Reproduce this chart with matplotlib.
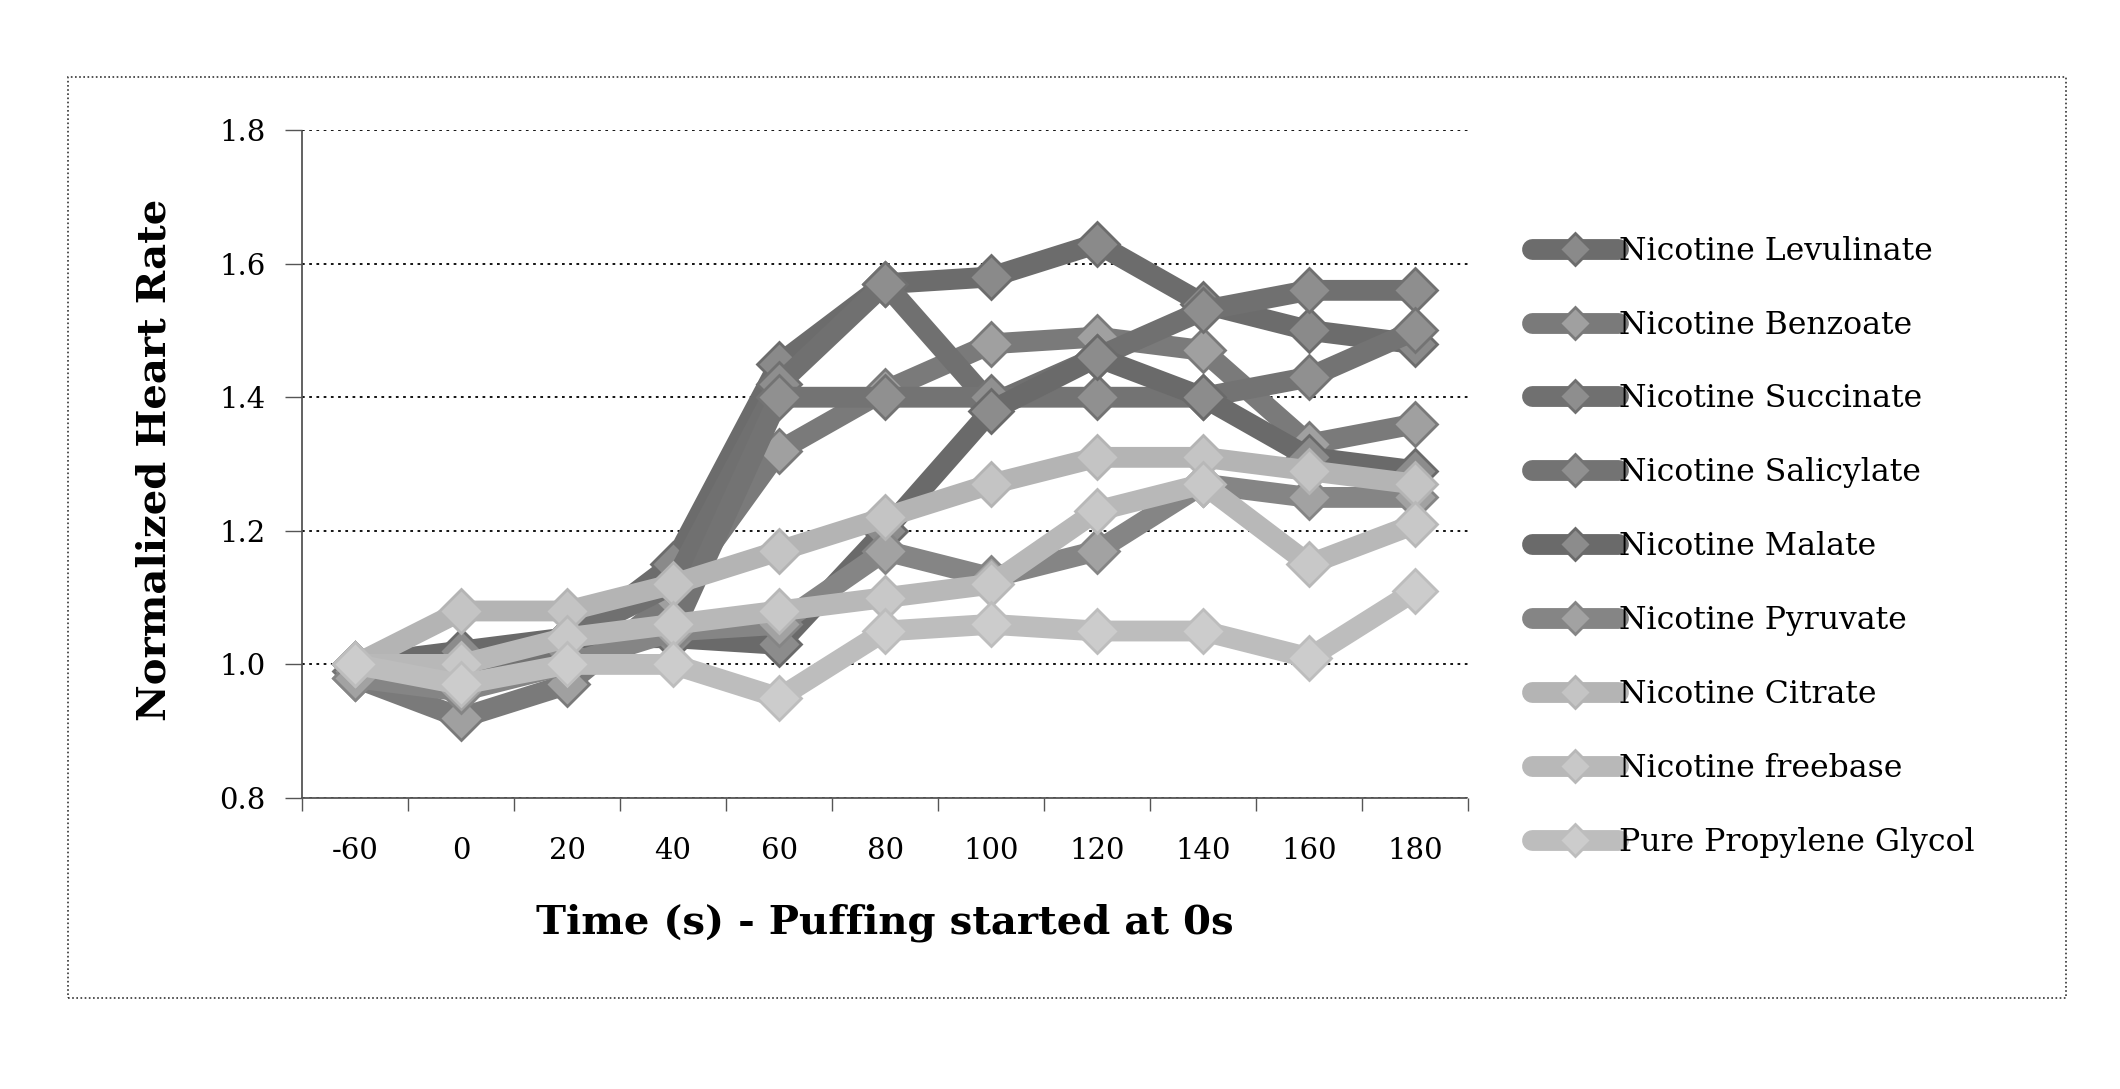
import numpy as np
import matplotlib.pyplot as plt
from matplotlib.patches import Rectangle

plt.rcParams['font.family'] = ['DejaVu Serif']

time_labels = ['-60', '0', '20', '40', '60', '80', '100', '120', '140', '160', '180']

levulinate = [1.00, 0.99, 1.03, 1.15, 1.45, 1.57, 1.58, 1.63, 1.54, 1.50, 1.48]
benzoate   = [0.98, 0.92, 0.97, 1.10, 1.32, 1.41, 1.48, 1.49, 1.47, 1.33, 1.36]
succinate  = [1.00, 1.01, 1.04, 1.12, 1.42, 1.57, 1.39, 1.46, 1.53, 1.56, 1.56]
salicylate = [0.99, 1.00, 1.02, 1.05, 1.40, 1.40, 1.40, 1.40, 1.40, 1.43, 1.50]
malate     = [1.00, 1.02, 1.04, 1.04, 1.03, 1.20, 1.38, 1.46, 1.40, 1.31, 1.29]
pyruvate   = [0.98, 0.96, 1.00, 1.05, 1.06, 1.17, 1.13, 1.17, 1.27, 1.25, 1.25]
citrate    = [1.00, 1.08, 1.08, 1.12, 1.17, 1.22, 1.27, 1.31, 1.31, 1.29, 1.27]
freebase   = [1.00, 1.00, 1.04, 1.06, 1.08, 1.10, 1.12, 1.23, 1.27, 1.15, 1.21]
pg         = [1.00, 0.97, 1.00, 1.00, 0.95, 1.05, 1.06, 1.05, 1.05, 1.01, 1.11]

names = ['Nicotine Levulinate', 'Nicotine Benzoate', 'Nicotine Succinate',
         'Nicotine Salicylate', 'Nicotine Malate', 'Nicotine Pyruvate',
         'Nicotine Citrate', 'Nicotine freebase', 'Pure Propylene Glycol']
values = [levulinate, benzoate, succinate, salicylate, malate, pyruvate,
          citrate, freebase, pg]
line_colors = ['#6c6c6c', '#7a7a7a', '#707070', '#737373', '#6a6a6a', '#858585',
               '#b4b4b4', '#b8b8b8', '#bdbdbd']
marker_colors = ['#8a8a8a', '#a0a0a0', '#8e8e8e', '#909090', '#8c8c8c', '#a2a2a2',
                 '#c4c4c4', '#c8c8c8', '#cccccc']

fig = plt.figure(figsize=(21.2, 10.89), dpi=100)
ax = fig.add_axes([0.1425, 0.2672, 0.55, 0.6134])

x = np.arange(len(time_labels))
for name, vals, lc, mc in zip(names, values, line_colors, marker_colors):
    ax.plot(x, vals, color=lc, lw=15, marker='D', ms=22, mfc=mc, mec=lc, mew=2,
            solid_joinstyle='round', solid_capstyle='round', label=name)

ax.set_xlim(-0.5, 10.5)
ax.set_ylim(0.8, 1.8)
ax.set_yticks(np.arange(0.8, 1.81, 0.2))
ax.set_yticklabels(['0.8', '1.0', '1.2', '1.4', '1.6', '1.8'])
ax.yaxis.grid(True, color='black', linestyle=(0, (1.5, 2.5)), lw=1.3)
ax.set_axisbelow(True)

ax.set_xticks(np.arange(-0.5, 11, 1))
ax.set_xticklabels([])
ax.set_xticks(x, minor=True)
ax.set_xticklabels(time_labels, minor=True)
ax.tick_params(axis='x', which='major', length=9, width=1, color='#555')
ax.tick_params(axis='x', which='minor', length=0, pad=28, labelsize=21)
ax.tick_params(axis='y', length=12, width=1, color='#555', pad=14, labelsize=21)

for s in ['top', 'right']:
    ax.spines[s].set_visible(False)
for s in ['left', 'bottom']:
    ax.spines[s].set_color('#555')
    ax.spines[s].set_linestyle((0, (1, 1)))
    ax.spines[s].set_linewidth(1.3)

fig.text(0.0731, 0.5776, 'Normalized Heart Rate', rotation=90, ha='center', va='center',
         fontsize=29, fontweight='bold')
fig.text(0.4175, 0.1524, 'Time (s) - Puffing started at 0s', ha='center', va='center',
         fontsize=29, fontweight='bold')

fig.legend(loc='upper left', bbox_to_anchor=(0.7150, 0.798), frameon=False,
           fontsize=22.7, labelspacing=1.36, handlelength=2.75, handletextpad=0.03,
           borderpad=0, numpoints=1, markerscale=0.75)

fig.add_artist(Rectangle((0.032, 0.0836), 0.9425, 0.8457, transform=fig.transFigure,
                         fill=False, ls=(0, (1, 1.5)), lw=1.2, ec='#333'))

fig.savefig('out.png', dpi=100)
